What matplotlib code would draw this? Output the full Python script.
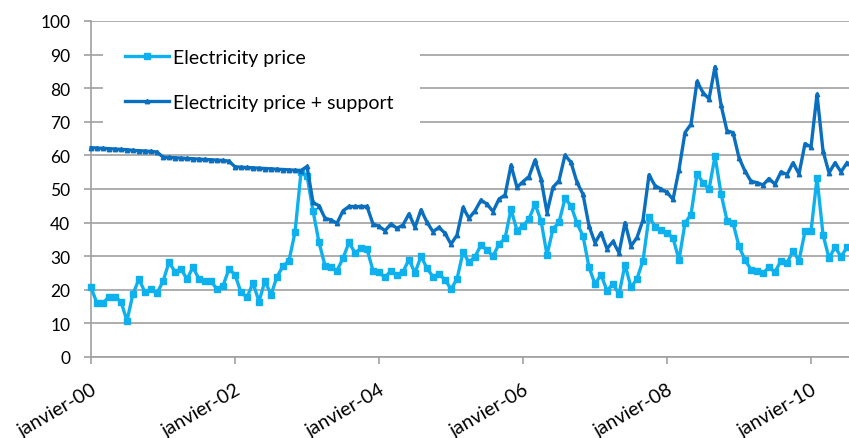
import matplotlib
matplotlib.use("Agg")
import matplotlib.pyplot as plt
from matplotlib.patches import Rectangle
import numpy as np

# Monthly data, janvier-2000 .. juillet-2010
price = [20.7, 16, 16, 18, 18, 16.4, 10.8, 18.8, 23.2, 19.2, 20.2, 19,
         22.5, 28.2, 25.4, 26.2, 23.2, 26.7, 23.2, 22.5, 22.5, 20.2, 21.2, 26.2,
         24.5, 19.2, 17.8, 22, 16.5, 22.7, 18.5, 23.9, 27, 28.7, 37.1, 55,
         54, 43.5, 34.1, 27.2, 26.7, 25.7, 29.4, 34.1, 31, 32.3, 32.1, 25.7,
         25.2, 23.7, 25.7, 24.4, 25.4, 29, 25, 30, 26.4, 23.9, 24.7, 23,
         20.2, 23.2, 31.2, 28.2, 29.9, 33.3, 31.9, 30, 33.6, 35.3, 44, 37.6,
         39.1, 41.1, 45.5, 40.6, 30.4, 38.1, 40.1, 47.2, 45, 39.8, 36, 26.7,
         21.7, 24.5, 19.7, 21.8, 18.7, 27.5, 20.7, 23.3, 28.7, 41.8, 38.8, 37.7,
         37, 35.4, 28.9, 39.9, 42.4, 54.5, 51.9, 49.9, 59.8, 48.6, 40.6, 39.9,
         32.9, 28.9, 26, 25.7, 25, 26.7, 25.3, 28.7, 28, 31.6, 28.6, 37.4,
         37.4, 53.3, 36.4, 29.4, 32.7, 29.9, 32.6]

price_support = [62.3, 62.2, 62.1, 62.0, 61.9, 61.8, 61.7, 61.5, 61.4, 61.3, 61.2, 61.0,
                 59.5, 59.4, 59.3, 59.2, 59.1, 59.0, 58.9, 58.8, 58.7, 58.6, 58.5, 58.3,
                 56.6, 56.5, 56.4, 56.3, 56.2, 56.1, 56.0, 55.9, 55.8, 55.7, 55.6, 55.5,
                 56.7, 46, 45, 41.3, 40.8, 39.8, 43.5, 44.8, 44.8, 44.8, 44.8, 39.6,
                 38.9, 37.6, 39.6, 38.3, 39.3, 42.6, 38.6, 43.8, 40.1, 37.3, 38.6, 36.8,
                 33.6, 36.3, 44.5, 41.3, 43.5, 46.7, 45.5, 43.3, 47, 48.2, 57.1, 50.5,
                 52.2, 53.7, 58.6, 53, 43, 50.5, 52.5, 60.1, 57.9, 52, 48.4, 39,
                 34, 37, 32.2, 34.4, 31, 40, 33, 35.6, 40.8, 54.2, 51, 50,
                 49, 46.9, 55.8, 66.8, 69.3, 82, 78.7, 76.8, 86.4, 75, 67.3, 66.8,
                 59.3, 55.3, 52.3, 51.9, 51.2, 53.1, 51.4, 55.1, 54.3, 57.8, 54.5, 63.5,
                 62.5, 78.2, 61.3, 54.8, 57.8, 55.1, 57.8]

tick_labels = ["janvier-00", "janvier-02", "janvier-04", "janvier-06", "janvier-08", "janvier-10"]
series_names = ["Electricity price", "Electricity price + support"]

months = np.arange(len(price))

plt.rcParams['font.family'] = ['Lato', 'DejaVu Sans']

W, H = 849, 439
fig = plt.figure(figsize=(W / 100, H / 100), dpi=100)
ax = fig.add_axes([91 / W, 1 - 358 / H, (W - 91) / W, 336 / H])

grid_c = '#a0a0a0'
ax.set_xlim(0, 126.33)
ax.set_ylim(0, 100)
ax.set_yticks(np.arange(0, 101, 10))
ax.set_xticks(np.arange(0, 121, 24))
ax.set_xticklabels(tick_labels, rotation=30, ha='right', va='top', rotation_mode='anchor')
ax.yaxis.grid(True, color=grid_c, linewidth=1.2)
ax.set_axisbelow(True)
for s in ['right', 'top']:
    ax.spines[s].set_visible(False)
for s in ['left', 'bottom']:
    ax.spines[s].set_color(grid_c)
    ax.spines[s].set_linewidth(1.2)
ax.tick_params(axis='both', colors=grid_c, direction='out', length=5, width=1.2)
ax.tick_params(axis='y', labelsize=12.5, labelcolor='black', pad=10)
ax.tick_params(axis='x', labelsize=14, labelcolor='black', pad=12)

# white legend background covering gridlines
ax.add_patch(Rectangle((0.0154, 0.649), 0.4186, 0.333, transform=ax.transAxes,
                       facecolor='white', edgecolor='none', zorder=1.5))

l1, = ax.plot(months, price, color='#0fb0ee', lw=2.4, marker='s', ms=3.8,
              label=series_names[0], zorder=3, clip_on=False)
l2, = ax.plot(months, price_support, color='#0a6fbf', lw=2.4, marker='^', ms=3.2,
              label=series_names[1], zorder=4, clip_on=False)

leg = ax.legend(handles=[l1, l2], loc='upper left', bbox_to_anchor=(125 / W, 1 - 50 / H),
                bbox_transform=fig.transFigure, frameon=False, fontsize=14,
                handlelength=2.27, handletextpad=0.2, labelspacing=1.45,
                borderpad=0, borderaxespad=0, numpoints=1, markerscale=1.0)
leg.set_zorder(5)

fig.savefig('out.png', dpi=100)
